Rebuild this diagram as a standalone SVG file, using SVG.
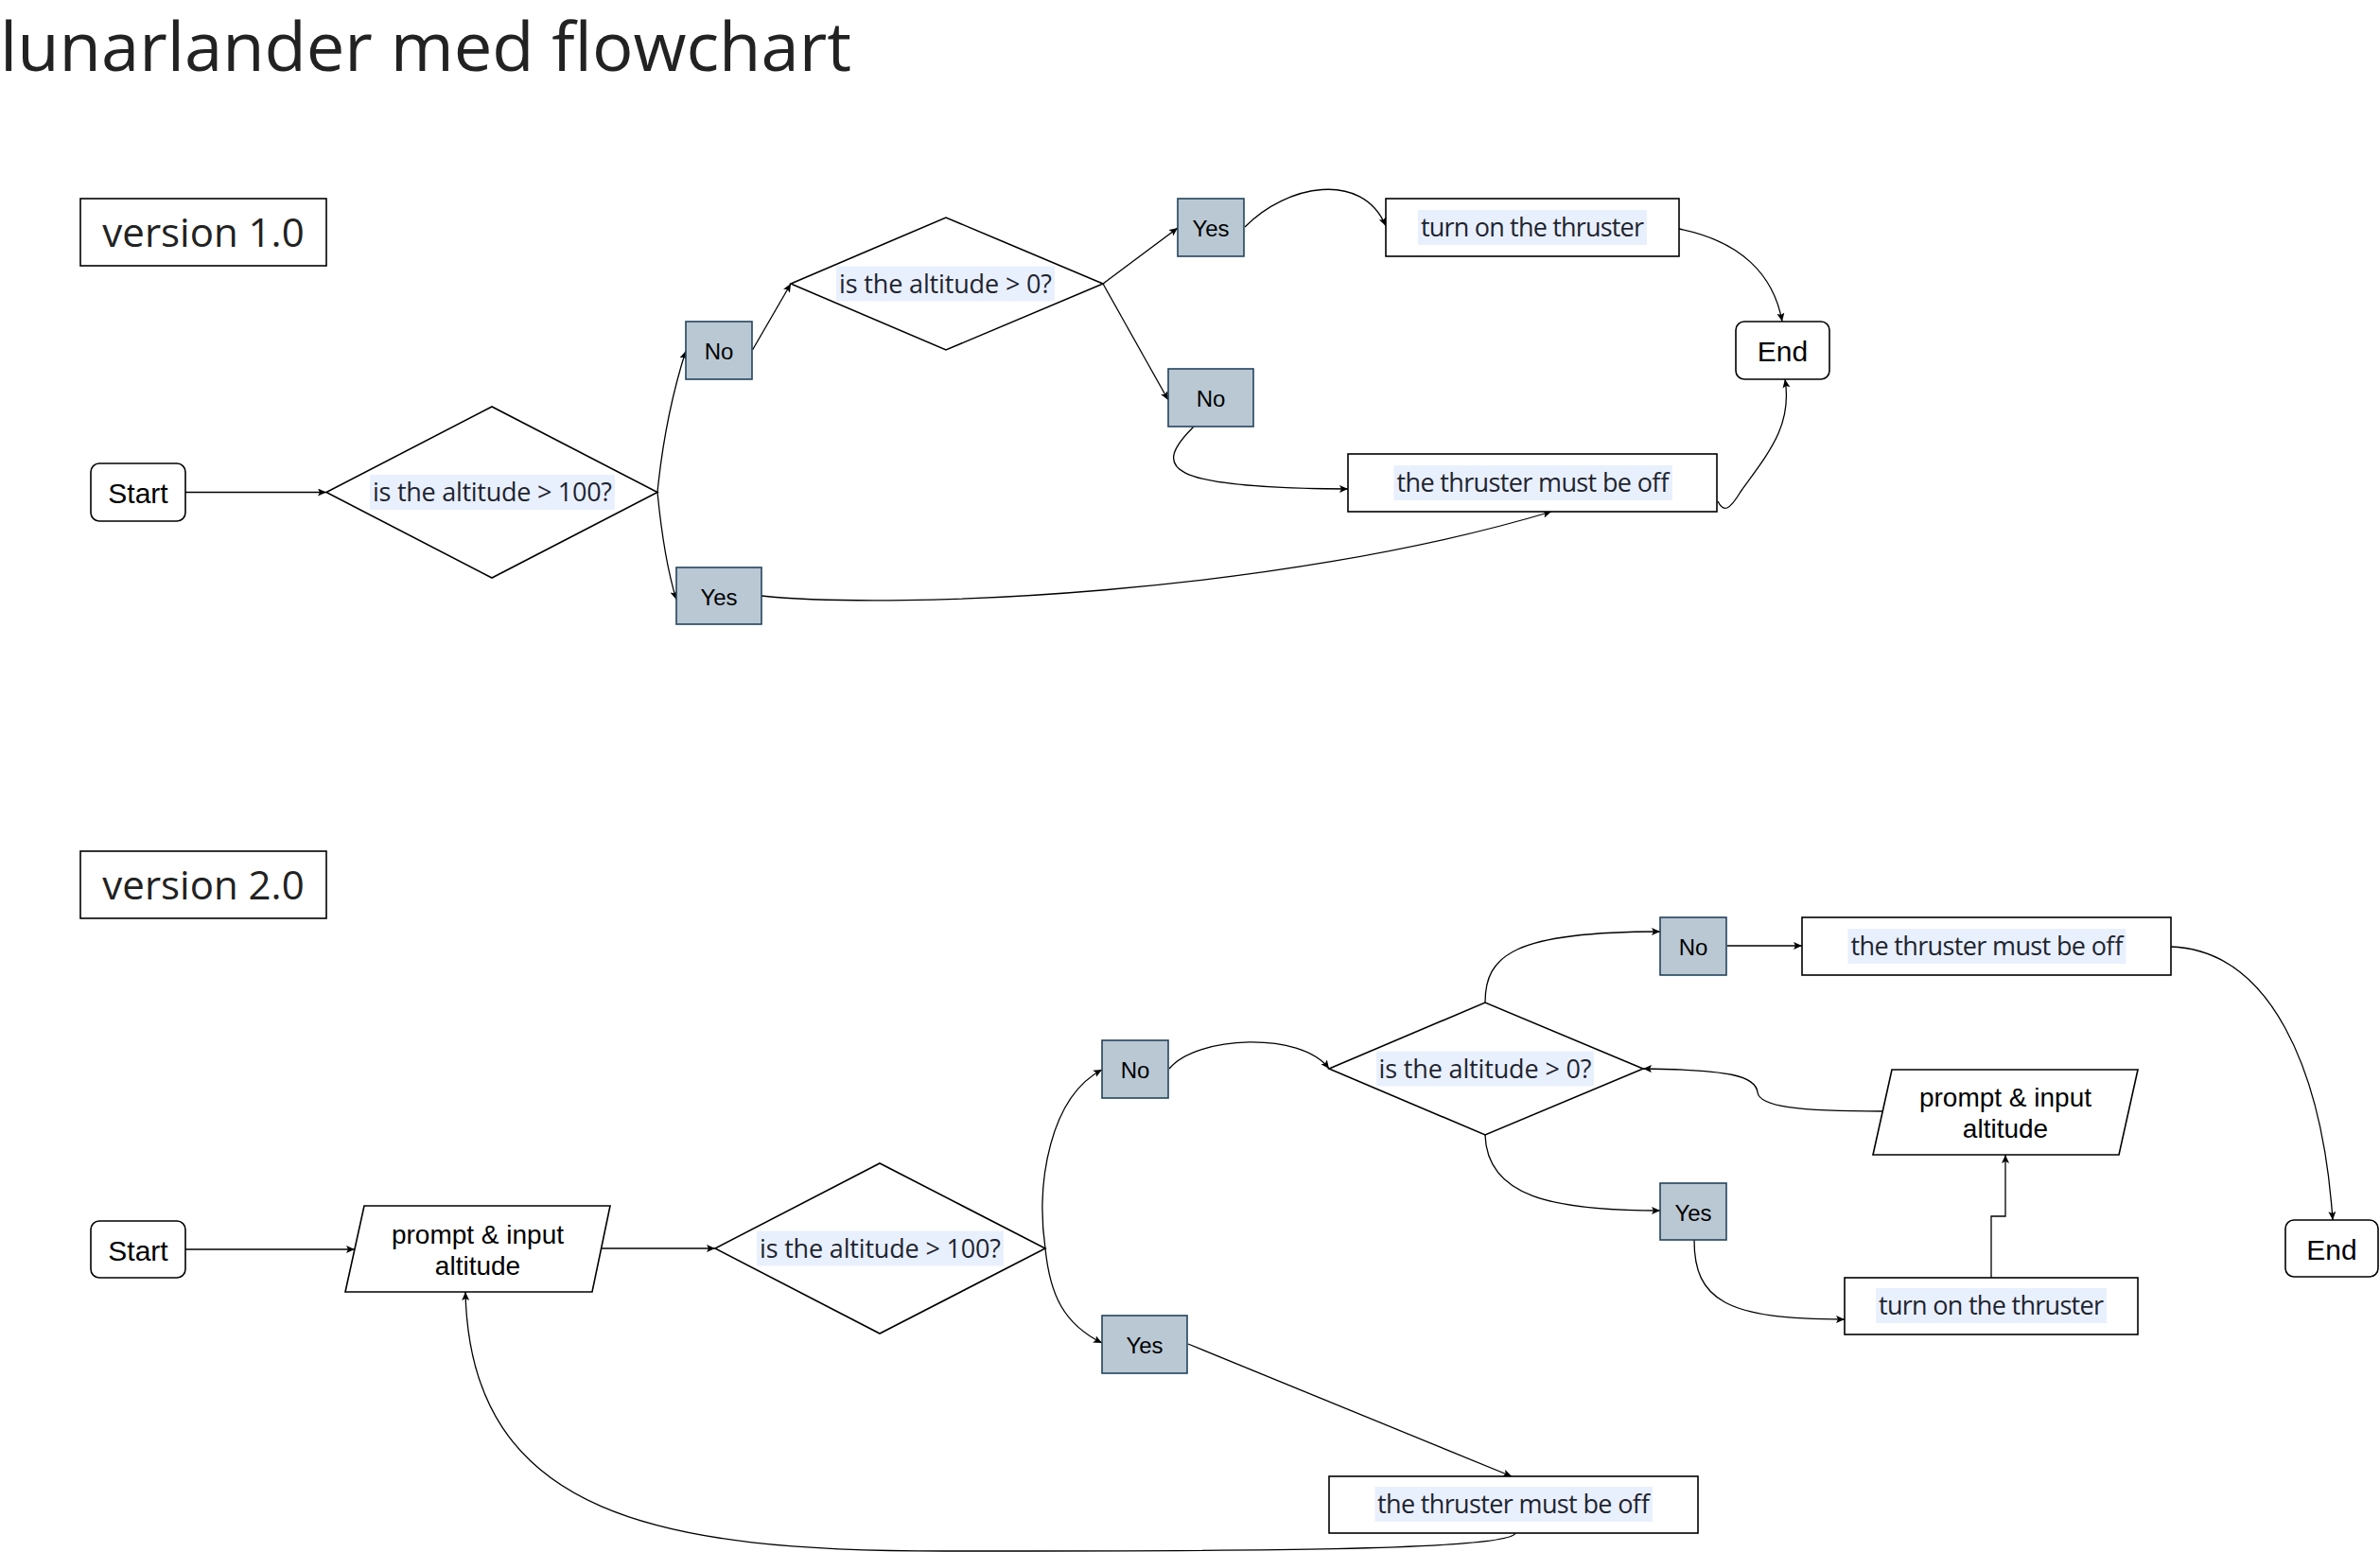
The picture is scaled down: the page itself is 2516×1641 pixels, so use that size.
<svg xmlns="http://www.w3.org/2000/svg" width="2516" height="1641" viewBox="0 0 2516 1641">
<style>
.bg{fill:#ffffff}
.box{fill:#ffffff;stroke:#000000;stroke-width:1.6}
.term{fill:#ffffff;stroke:#000000;stroke-width:1.6}
.yn{fill:#bac8d3;stroke:#23445d;stroke-width:1.6}
.hl{fill:#e9f0fd}
.lbl{font-family:"Open Sans","Noto Sans",sans-serif;font-size:27px;fill:#1e2430;text-anchor:middle}
.arial{font-family:"Liberation Sans",Arial,sans-serif;fill:#000000;text-anchor:middle}
.title{font-family:"Open Sans","Noto Sans",sans-serif;font-size:72px;fill:#222222}
.ver{font-family:"Open Sans","Noto Sans",sans-serif;font-size:42px;fill:#222222;text-anchor:middle}
.edge{fill:none;stroke:#000000;stroke-width:1.3;marker-end:url(#arr)}
</style>
<defs>
<marker id="arr" markerUnits="userSpaceOnUse" markerWidth="12" markerHeight="10" refX="9" refY="4" orient="auto">
<path d="M0,0 L9,4 L0,8 L2,4 Z" fill="#000000"/>
</marker>
</defs>
<rect class="bg" x="0" y="0" width="2516" height="1641"/>
<text class="title" x="0" y="75" textLength="900" lengthAdjust="spacingAndGlyphs">lunarlander med flowchart</text>

<g id="version1">
<rect class="box" x="85" y="210" width="260" height="71"/>
<text class="ver" x="215" y="261">version 1.0</text>
</g>
<g id="version2">
<rect class="box" x="85" y="900" width="260" height="71"/>
<text class="ver" x="215" y="951">version 2.0</text>
</g>

<g id="connectors">
<!-- version 1 -->
<path class="edge" d="M196,520.5 L345,520.5"/>
<path class="edge" d="M695,520.5 Q703,440 725,371"/>
<path class="edge" d="M695,520.5 Q702,592 715,634"/>
<path class="edge" d="M795.5,370 L836,300"/>
<path class="edge" d="M1166,300 L1245,241"/>
<path class="edge" d="M1166,300 L1235,423"/>
<path class="edge" d="M1316,240 C1360,195 1440,180 1465,239"/>
<path class="edge" d="M1775,242 C1840,255 1875,290 1884,340"/>
<path class="edge" d="M1262,451 C1218,495 1228,516 1425,517"/>
<path class="edge" d="M1816,530 C1822,542 1828,540 1840,520 C1870,478 1895,450 1887,401"/>
<path class="edge" d="M805,630 C950,645 1350,628 1640,541"/>
<!-- version 2 -->
<path class="edge" d="M196,1321 L375,1321"/>
<path class="edge" d="M634,1320 L756,1320"/>
<path class="edge" d="M1105,1320 C1095,1250 1110,1160 1165,1131"/>
<path class="edge" d="M1105,1320 C1110,1370 1125,1400 1165,1420"/>
<path class="edge" d="M1236,1130 C1265,1095 1375,1090 1405,1130"/>
<path class="edge" d="M1570,1060 C1570,1010 1600,985 1755,985"/>
<path class="edge" d="M1826,1000 L1905,1000"/>
<path class="edge" d="M2295,1001 C2400,1005 2455,1130 2466,1290"/>
<path class="edge" d="M1570,1200 C1572,1265 1640,1280 1755,1280"/>
<path class="edge" d="M1791,1311 C1791,1375 1825,1395 1950,1395"/>
<path class="edge" d="M2105,1351 V1286 H2120 V1221"/>
<path class="edge" d="M1990,1175 C1900,1175 1860,1170 1858,1155 C1856,1138 1830,1131 1737,1130"/>
<path class="edge" d="M1256,1421 L1598,1561"/>
<path class="edge" d="M1602,1621 C1595,1640 1300,1640 1000,1640 C700,1640 497,1605 492,1366"/>
</g>

<!-- version 1 nodes -->
<g id="start1">
<rect class="term" x="96" y="490" width="100" height="61" rx="9"/>
<text class="arial" x="146" y="532" font-size="30">Start</text>
</g>
<g id="dec1">
<polygon class="box" points="345,520.5 520,430 695,520.5 520,611"/>
<rect class="hl" x="391" y="502" width="259" height="37"/>
<text class="lbl" x="520.5" y="530" textLength="253">is the altitude &gt; 100?</text>
</g>
<g id="no1">
<rect class="yn" x="725" y="340" width="70" height="61"/>
<text class="arial" x="760" y="380" font-size="24">No</text>
</g>
<g id="yes1">
<rect class="yn" x="715" y="600" width="90" height="60"/>
<text class="arial" x="760" y="639.5" font-size="24">Yes</text>
</g>
<g id="dec2">
<polygon class="box" points="836,300 1000,230 1166,300 1000,370"/>
<rect class="hl" x="884" y="281.5" width="231" height="37"/>
<text class="lbl" x="999.5" y="310" textLength="225">is the altitude &gt; 0?</text>
</g>
<g id="yes2">
<rect class="yn" x="1245" y="210" width="70" height="61"/>
<text class="arial" x="1280" y="250" font-size="24">Yes</text>
</g>
<g id="no2">
<rect class="yn" x="1235" y="390" width="90" height="61"/>
<text class="arial" x="1280" y="430" font-size="24">No</text>
</g>
<g id="turnon1">
<rect class="box" x="1465" y="210" width="310" height="61"/>
<rect class="hl" x="1499" y="222" width="242" height="37"/>
<text class="lbl" x="1620" y="250" textLength="236">turn on the thruster</text>
</g>
<g id="end1">
<rect class="term" x="1835" y="340" width="99" height="61" rx="9"/>
<text class="arial" x="1884.5" y="382" font-size="30">End</text>
</g>
<g id="off1">
<rect class="box" x="1425" y="480" width="390" height="61"/>
<rect class="hl" x="1473.5" y="492" width="294.5" height="37"/>
<text class="lbl" x="1620.5" y="520" textLength="288">the thruster must be off</text>
</g>

<!-- version 2 nodes -->
<g id="start2">
<rect class="term" x="96" y="1291" width="100" height="60" rx="9"/>
<text class="arial" x="146" y="1332.5" font-size="30">Start</text>
</g>
<g id="prompt1">
<polygon class="box" points="385,1275 645,1275 626,1366 365,1366"/>
<text class="arial" x="505" y="1315" font-size="28">prompt &amp; input</text>
<text class="arial" x="505" y="1348" font-size="28">altitude</text>
</g>
<g id="dec3">
<polygon class="box" points="756,1320 930,1230 1105,1320 930,1410"/>
<rect class="hl" x="800" y="1301.5" width="261" height="37"/>
<text class="lbl" x="930.5" y="1330" textLength="255">is the altitude &gt; 100?</text>
</g>
<g id="no3">
<rect class="yn" x="1165" y="1100" width="70" height="61"/>
<text class="arial" x="1200" y="1140" font-size="24">No</text>
</g>
<g id="yes3">
<rect class="yn" x="1165" y="1391" width="90" height="61"/>
<text class="arial" x="1210" y="1431" font-size="24">Yes</text>
</g>
<g id="dec4">
<polygon class="box" points="1405,1130 1570,1060 1737,1130 1570,1200"/>
<rect class="hl" x="1455" y="1111.5" width="230" height="37"/>
<text class="lbl" x="1570" y="1140" textLength="225">is the altitude &gt; 0?</text>
</g>
<g id="no4">
<rect class="yn" x="1755" y="970" width="70" height="61"/>
<text class="arial" x="1790" y="1010" font-size="24">No</text>
</g>
<g id="off2">
<rect class="box" x="1905" y="970" width="390" height="61"/>
<rect class="hl" x="1953.5" y="982" width="294" height="37"/>
<text class="lbl" x="2100.5" y="1010" textLength="288">the thruster must be off</text>
</g>
<g id="prompt2">
<polygon class="box" points="2000,1131 2260,1131 2240,1221 1980,1221"/>
<text class="arial" x="2120" y="1170" font-size="28">prompt &amp; input</text>
<text class="arial" x="2120" y="1203" font-size="28">altitude</text>
</g>
<g id="yes4">
<rect class="yn" x="1755" y="1251" width="70" height="60"/>
<text class="arial" x="1790" y="1290.5" font-size="24">Yes</text>
</g>
<g id="turnon2">
<rect class="box" x="1950" y="1351" width="310" height="60"/>
<rect class="hl" x="1983" y="1362" width="244" height="37"/>
<text class="lbl" x="2105" y="1390" textLength="238">turn on the thruster</text>
</g>
<g id="end2">
<rect class="term" x="2416" y="1290" width="98" height="60" rx="9"/>
<text class="arial" x="2465" y="1331.5" font-size="30">End</text>
</g>
<g id="off3">
<rect class="box" x="1405" y="1561" width="390" height="60"/>
<rect class="hl" x="1453.5" y="1572" width="293.5" height="37"/>
<text class="lbl" x="1600" y="1600" textLength="288">the thruster must be off</text>
</g>
</svg>
